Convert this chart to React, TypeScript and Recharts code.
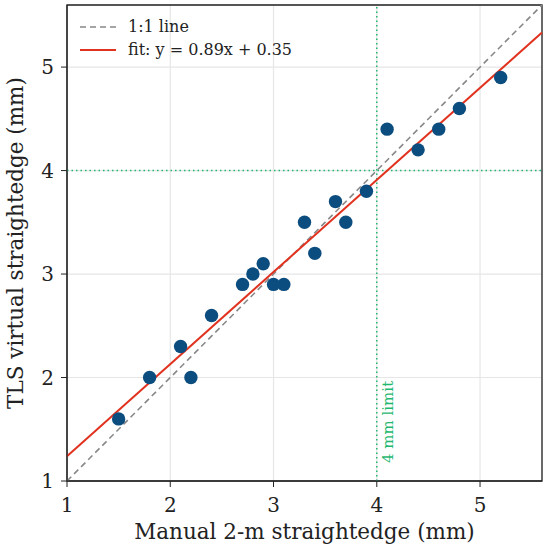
import React from "react"
import {
  ScatterChart,
  Scatter,
  XAxis,
  YAxis,
  CartesianGrid,
  ReferenceLine,
  ReferenceArea,
} from "recharts"

const manualMm = [1.5, 1.8, 2.1, 2.2, 2.4, 2.7, 2.8, 2.9, 3.0, 3.1, 3.3, 3.4, 3.6, 3.7, 3.9, 4.1, 4.4, 4.6, 4.8, 5.2]
const tlsMm = [1.6, 2.0, 2.3, 2.0, 2.6, 2.9, 3.0, 3.1, 2.9, 2.9, 3.5, 3.2, 3.7, 3.5, 3.8, 4.4, 4.2, 4.4, 4.6, 4.9]
const axisTicks = [1, 2, 3, 4, 5]
const axisDomain: [number, number] = [1, 5.6]
const fitSlope = 0.89
const fitIntercept = 0.35
const limitMm = 4

const points = manualMm.map((x, i) => ({ x, y: tlsMm[i] }))
const fitSegment = axisDomain.map((x) => ({ x, y: fitSlope * x + fitIntercept }))
const identitySegment = axisDomain.map((x) => ({ x, y: x }))

const FONT = "DejaVu Serif, serif"
const GREEN = "#1fb870"
const RED = "#e0321f"
const DOT = "#0c4d7f"

const Dot = (props: any) => <circle cx={props.cx} cy={props.cy} r={6.7} fill={DOT} />

const LimitLabel = (props: any) => {
  const { x, y, height } = props.viewBox
  const tx = x + 16
  const ty = y + height - 18
  return (
    <text x={tx} y={ty} transform={`rotate(-90, ${tx}, ${ty})`} fill={GREEN} fontSize={15} fontFamily={FONT}>
      4 mm limit
    </text>
  )
}

export default function App() {
  return (
    <div style={{ position: "absolute", left: 0, top: 0, width: 550, height: 553, background: "#fff", fontFamily: FONT }}>
      <ScatterChart width={550} height={553} margin={{ top: 5, right: 8, bottom: 0, left: 0 }}>
        <CartesianGrid stroke="#e6e6e6" strokeWidth={1.2} />
        <XAxis
          type="number"
          dataKey="x"
          domain={axisDomain}
          ticks={axisTicks}
          allowDataOverflow
          height={72}
          tickSize={6}
          tickMargin={11}
          stroke="#222"
          tick={{ fill: "#222", fontSize: 20, fontFamily: FONT }}
          label={{ value: "Manual 2-m straightedge (mm)", position: "insideBottom", offset: 14, fill: "#222", fontSize: 21.5, fontFamily: FONT }}
        />
        <YAxis
          type="number"
          dataKey="y"
          domain={axisDomain}
          ticks={axisTicks}
          allowDataOverflow
          width={67}
          tickSize={6}
          tickMargin={7}
          stroke="#222"
          tick={{ fill: "#222", fontSize: 20, fontFamily: FONT }}
          label={{ value: "TLS virtual straightedge (mm)", angle: -90, position: "insideLeft", offset: 15, fill: "#222", fontSize: 21.5, fontFamily: FONT, style: { textAnchor: "middle" } }}
        />
        <ReferenceLine x={limitMm} stroke={GREEN} strokeWidth={1.5} strokeDasharray="1.5 3" label={<LimitLabel />} />
        <ReferenceLine y={limitMm} stroke={GREEN} strokeWidth={1.5} strokeDasharray="1.5 3" />
        <ReferenceLine segment={identitySegment} stroke="#888" strokeWidth={1.6} strokeDasharray="6 4" />
        <ReferenceLine segment={fitSegment} stroke={RED} strokeWidth={2} />
        <Scatter data={points} shape={<Dot />} isAnimationActive={false} />
        <ReferenceArea x1={axisDomain[0]} x2={axisDomain[1]} y1={axisDomain[0]} y2={axisDomain[1]} fill="none" stroke="#222" strokeWidth={1.3} />
      </ScatterChart>
      <div style={{ position: "absolute", left: 80, top: 15, fontSize: 16, color: "#222", lineHeight: "23px" }}>
        <div style={{ display: "flex", alignItems: "center" }}>
          <svg width={36} height={4} style={{ marginRight: 12 }}>
            <line x1={0} y1={2} x2={36} y2={2} stroke="#888" strokeWidth={1.6} strokeDasharray="6 4" />
          </svg>
          1:1 line
        </div>
        <div style={{ display: "flex", alignItems: "center" }}>
          <svg width={36} height={4} style={{ marginRight: 12 }}>
            <line x1={0} y1={2} x2={36} y2={2} stroke={RED} strokeWidth={2} />
          </svg>
          fit: y = 0.89x + 0.35
        </div>
      </div>
    </div>
  )
}
